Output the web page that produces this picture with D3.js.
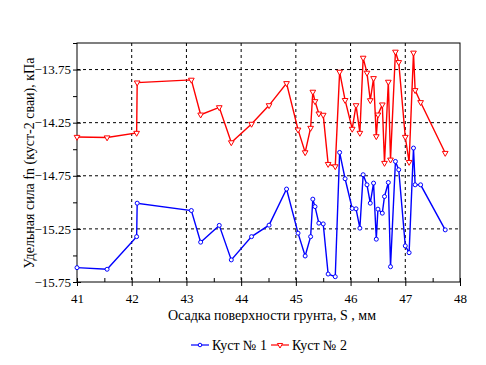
<!DOCTYPE html>
<html><head><meta charset="utf-8">
<script src="https://cdn.jsdelivr.net/npm/d3@7"></script>
<style>body{margin:0;background:#fff}svg{display:block}</style>
</head><body><svg id="c" width="486" height="365"></svg>
<script>
const xs = [41.0,41.55,42.09,42.1,43.09,43.26,43.6,43.82,44.19,44.51,44.83,45.04,45.17,45.27,45.31,45.35,45.42,45.5,45.59,45.72,45.8,45.9,46.03,46.1,46.17,46.23,46.3,46.36,46.42,46.47,46.5,46.58,46.62,46.69,46.73,46.82,46.88,47.0,47.07,47.15,47.18,47.28,47.73];
const kust1 = [-15.615,-15.63,-15.323,-15.008,-15.077,-15.375,-15.217,-15.542,-15.323,-15.215,-14.875,-15.29,-15.505,-15.323,-14.97,-15.04,-15.196,-15.203,-15.675,-15.7,-14.53,-14.778,-15.058,-15.061,-15.243,-14.74,-14.835,-15.008,-14.819,-15.347,-15.064,-15.102,-14.945,-14.813,-15.606,-14.615,-14.693,-15.41,-15.474,-14.489,-14.835,-14.835,-15.259];
const kust2 = [-14.385,-14.39,-14.347,-13.873,-13.847,-14.175,-14.106,-14.436,-14.262,-14.087,-13.879,-14.316,-14.53,-14.3,-13.96,-14.049,-14.165,-14.177,-14.64,-14.662,-13.772,-14.038,-14.309,-14.087,-14.347,-13.64,-13.781,-14.04,-13.832,-14.379,-14.175,-14.08,-14.63,-13.866,-14.599,-13.583,-13.681,-14.385,-14.621,-13.592,-13.945,-14.058,-14.536];
const xTicks = [41,42,43,44,45,46,47,48];
const yTicks = [-13.75,-14.25,-14.75,-15.25,-15.75];
const yMinor = [-13.5,-14.0,-14.5,-15.0,-15.5];
const xMinor = [41.5,42.5,43.5,44.5,45.5,46.5,47.5];
const seriesNames = ["Куст № 1","Куст № 2"];
const colors = ["#0000ff","#ff0000"];
const xTitle = "Осадка поверхности грунта, S , мм";
const yTitle = "Удельная сила fn (куст-2 сваи), кПа";

const FF = "'Liberation Serif','Times New Roman','DejaVu Serif',serif";
const svg = d3.select("#c").attr("font-family",FF);
const L=77,T=43,R=460,B=282;
const x = d3.scaleLinear().domain([41,48]).range([L,R]);
const y = d3.scaleLinear().domain([-15.75,-13.5]).range([B,T]);

// grid
const g = svg.append("g");
xTicks.slice(1,-1).forEach(v=>g.append("line").attr("x1",x(v)).attr("x2",x(v)).attr("y1",T).attr("y2",B).attr("stroke","#000").attr("stroke-dasharray","3,3"));
yTicks.slice(0,-1).forEach(v=>g.append("line").attr("x1",L).attr("x2",R).attr("y1",y(v)).attr("y2",y(v)).attr("stroke","#000").attr("stroke-dasharray","3,3"));

// frame
svg.append("rect").attr("x",L).attr("y",T).attr("width",R-L).attr("height",B-T).attr("fill","none").attr("stroke","#000");

// axes
const xa = svg.append("g").attr("transform",`translate(0,${B})`).call(d3.axisBottom(x).tickValues(xTicks).tickSize(4).tickFormat(d3.format("d")));
xa.attr("font-family",FF);
xa.select(".domain").remove();
xa.selectAll(".tick line").attr("y1",-4).attr("y2",4);
xa.selectAll("text").attr("font-size",13).attr("dy","1.05em").attr("font-family",FF);
const xm = svg.append("g").attr("transform",`translate(0,${B})`).call(d3.axisBottom(x).tickValues(xMinor).tickSize(-4).tickFormat(""));
xm.select(".domain").remove();

const ya = svg.append("g").attr("transform",`translate(${L},0)`).call(d3.axisLeft(y).tickValues(yTicks).tickSize(4).tickFormat(d3.format(".2f")));
ya.attr("font-family",FF);
ya.select(".domain").remove();
ya.selectAll(".tick line").attr("x1",-4).attr("x2",4);
ya.selectAll("text").attr("font-size",13).attr("x",-6).attr("font-family",FF);
const ym = svg.append("g").attr("transform",`translate(${L},0)`).call(d3.axisLeft(y).tickValues(yMinor).tickSize(4).tickFormat(""));
ym.select(".domain").remove();

// series
const line = d3.line().x((d,i)=>x(xs[i])).y(d=>y(d));
[kust1,kust2].forEach((s,k)=>{
  const gg = svg.append("g");
  gg.append("path").datum(s).attr("d",line).attr("fill","none").attr("stroke",colors[k]).attr("stroke-width",1.4);
  if(k===0){
    gg.selectAll("circle").data(s).enter().append("circle").attr("cx",(d,i)=>x(xs[i])).attr("cy",d=>y(d)).attr("r",2).attr("fill","#fff").attr("stroke",colors[k]).attr("stroke-width",1);
  } else {
    const tri = d3.symbol().type(d3.symbolTriangle).size(14);
    gg.selectAll("path.m").data(s).enter().append("path").attr("class","m").attr("d",tri).attr("transform",(d,i)=>`translate(${x(xs[i])},${y(d)}) rotate(180)`).attr("fill","#fff").attr("stroke",colors[k]).attr("stroke-width",1);
  }
});

// titles
svg.append("text").attr("x",272).attr("y",320).attr("text-anchor","middle").attr("font-size",14).attr("font-family",FF).text(xTitle);
svg.append("text").attr("transform","translate(34,163) rotate(-90)").attr("text-anchor","middle").attr("font-size",14).attr("font-family",FF).text(yTitle);

// legend
const lg = svg.append("g");
const lx=[191,271];
seriesNames.forEach((n,k)=>{
  lg.append("line").attr("x1",lx[k]).attr("x2",lx[k]+18).attr("y1",345).attr("y2",345).attr("stroke",colors[k]).attr("stroke-width",1.2);
  if(k===0) lg.append("circle").attr("cx",lx[k]+9).attr("cy",345).attr("r",1.8).attr("fill","#fff").attr("stroke",colors[k]);
  else lg.append("path").attr("d",d3.symbol().type(d3.symbolTriangle).size(12)).attr("transform",`translate(${lx[k]+9},345) rotate(180)`).attr("fill","#fff").attr("stroke",colors[k]);
  lg.append("text").attr("x",lx[k]+21).attr("y",350).attr("font-size",14).attr("font-family",FF).text(n);
});
</script></body></html>
